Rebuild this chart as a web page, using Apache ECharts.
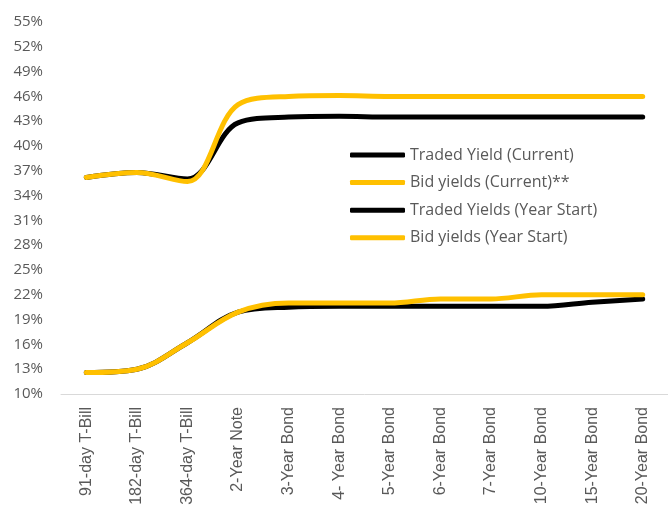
<!DOCTYPE html>
<html>
<head>
<meta charset="utf-8">
<script src="https://cdn.jsdelivr.net/npm/echarts@6/dist/echarts.min.js"></script>
<style>
html,body{margin:0;padding:0;background:#fff;}
#chart{width:668px;height:510px;}
</style>
</head>
<body>
<div id="chart"></div>
<script>
var categories = ['91-day T-Bill','182-day T-Bill','364-day T-Bill','2-Year Note','3-Year Bond','4- Year Bond','5-Year Bond','6-Year Bond','7-Year Bond','10-Year Bond','15-Year Bond','20-Year Bond'];
var tradedCurrent = [36.2, 36.8, 36.0, 42.8, 43.5, 43.6, 43.5, 43.5, 43.5, 43.5, 43.5, 43.5];
var bidCurrent = [36.2, 36.8, 35.7, 45.0, 46.0, 46.1, 46.0, 46.0, 46.0, 46.0, 46.0, 46.0];
var tradedStart = [12.6, 13.0, 16.2, 19.9, 20.5, 20.6, 20.6, 20.6, 20.6, 20.6, 21.1, 21.5];
var bidStart = [12.6, 13.0, 16.2, 19.9, 21.0, 21.0, 21.0, 21.5, 21.5, 22.0, 22.0, 22.0];
var seriesNames = ['Traded Yield (Current)','Bid yields (Current)**','Traded Yields (Year Start)','Bid yields (Year Start)'];

var BLACK = '#000000', GOLD = '#FFC000';
var FONT = 'Open Sans';
function mk(name, data, color){
  return {name:name, type:'line', data:data, smooth:0.35, symbol:'none',
    lineStyle:{color:color, width:5, cap:'round', join:'round'}, itemStyle:{color:color}};
}
var chart = echarts.init(document.getElementById('chart'), null, {renderer:'canvas'});
chart.setOption({
  animation:false,
  backgroundColor:'#fff',
  grid:{left:61, top:22, width:620, height:372, containLabel:false},
  legend:{
    orient:'vertical', left:345, top:141, itemGap:9.6, itemWidth:55, itemHeight:5,
    icon:'roundRect',
    textStyle:{fontFamily:FONT, fontSize:16, color:'#595959', lineHeight:18},
    data:seriesNames
  },
  xAxis:{type:'category', data:categories, boundaryGap:true,
    axisLine:{lineStyle:{color:'#d9d9d9', width:1}}, axisTick:{show:false},
    axisLabel:{rotate:90, interval:0, margin:13, fontFamily:'Liberation Sans', fontSize:16, color:'#595959'}},
  yAxis:{type:'value', min:10, max:55, interval:3,
    axisLine:{show:false}, axisTick:{show:false}, splitLine:{show:false},
    axisLabel:{formatter:function(v){return v+'%';}, margin:18, fontFamily:FONT, fontSize:15, color:'#595959'}},
  series:[
    mk(seriesNames[0], tradedCurrent, BLACK),
    mk(seriesNames[1], bidCurrent, GOLD),
    mk(seriesNames[2], tradedStart, BLACK),
    mk(seriesNames[3], bidStart, GOLD)
  ]
});
</script>
</body>
</html>
